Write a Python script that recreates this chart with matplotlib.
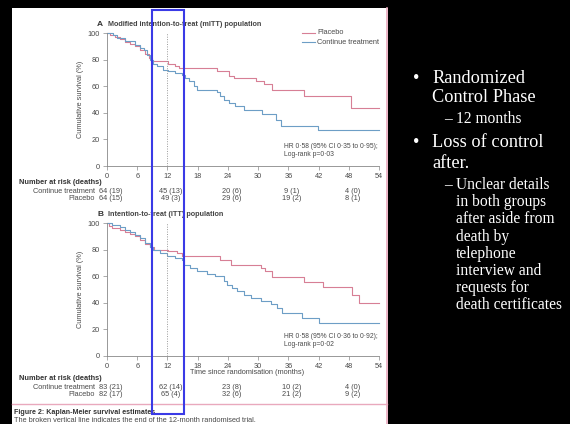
import matplotlib
matplotlib.use('Agg')
import matplotlib.pyplot as plt
from matplotlib.patches import Rectangle
from matplotlib.lines import Line2D
from matplotlib.transforms import blended_transform_factory

W, H = 570, 424
END = 54

# Panel A: modified intention-to-treat population
a_placebo_t = [0, 0.5, 1.5, 2.5, 3.5, 4.5, 5.5, 6.5, 7.5, 8.3, 9.0, 12.2, 13.5, 14.2,
               21.8, 24.2, 25.2, 29.5, 31.1, 32.8, 39.1, 48.4]
a_placebo_s = [100, 98.5, 97, 95.5, 93.5, 92, 90, 87.5, 84.5, 81, 78.7, 77, 75, 73.7,
               71.2, 67.4, 66.2, 63.7, 61.7, 57.4, 52.4, 43.6]
a_cont_t = [0, 1.2, 2.0, 3.5, 5.5, 6.5, 7.3, 8.0, 8.6, 9.2, 9.9, 11.2, 12.2, 13.5, 14.9,
            15.4, 16.2, 17.2, 17.9, 21.8, 22.5, 23.3, 24.2, 25.5, 27.2, 30.8, 33.5, 34.5, 41.8]
a_cont_s = [100, 98.7, 96.2, 94.2, 91.2, 89, 87.4, 83.7, 80, 77, 75, 72.4, 71.2, 69.9, 68.6,
            66, 63.7, 59.9, 57.4, 55.5, 53, 49.9, 47.4, 44.9, 42.3, 39.1, 34.8, 30.3, 26.8]

# Panel B: intention-to-treat population
b_placebo_t = [0, 0.3, 1.0, 2.5, 3.5, 4.5, 5.5, 6.5, 7.5, 8.6, 9.3, 12.2, 13.8, 14.9,
               22.5, 24.7, 30.5, 31.3, 32.8, 39.1, 42.8, 48.7, 50.1]
b_placebo_s = [100, 98, 96.5, 95, 93, 92, 90, 87.5, 84.5, 81.7, 80, 79, 77.4, 75,
               72.4, 68.6, 66.2, 63.7, 59.2, 55.6, 51.7, 46.1, 39.8]
b_cont_t = [0, 1.0, 2.5, 3.5, 4.5, 5.5, 6.5, 7.5, 8.6, 9.2, 10.6, 11.9, 13.5, 14.9, 15.2,
            16.5, 17.9, 19.9, 21.5, 23.2, 23.8, 24.8, 25.8, 27.2, 28.5, 30.5, 32.5, 33.8,
            34.8, 38.8, 42.1]
b_cont_s = [100, 98.5, 97, 95, 93, 91, 88.5, 85, 81.7, 80, 77.4, 75, 73.7, 72.4, 68.6,
            66.2, 63.7, 61.7, 59.9, 56.2, 53.6, 51.1, 48.6, 46.1, 43.6, 41.1, 39.1, 36.1,
            32.3, 28.6, 24.8]

risk_times = [0, 12, 24, 36, 48]
a_risk_cont = ['64 (19)', '45 (13)', '20 (6)', '9 (1)', '4 (0)']
a_risk_pl = ['64 (15)', '49 (3)', '29 (6)', '19 (2)', '8 (1)']
b_risk_cont = ['83 (21)', '62 (14)', '23 (8)', '10 (2)', '4 (0)']
b_risk_pl = ['82 (17)', '65 (4)', '32 (6)', '21 (2)', '9 (2)']

PINK = '#d77f95'
BLUE = '#6d9ec6'
TXT = '#4a4a4a'
FS = 5.3
plt.rcParams['font.family'] = ['Liberation Sans', 'DejaVu Sans']

fig = plt.figure(figsize=(W / 100, H / 100), dpi=100, facecolor='black')


def fy(py):
  return 1 - py / H


def ftext(px, py, s, **kw):
  kw.setdefault('fontsize', FS)
  kw.setdefault('color', TXT)
  kw.setdefault('va', 'center')
  fig.text(px / W, fy(py), s, **kw)


# white page of the journal figure
fig.add_artist(Rectangle((12 / W, 0), 376 / W, (H - 8) / H, transform=fig.transFigure,
                         fc='white', ec='none', zorder=-5))
fig.add_artist(Line2D([387 / W, 387 / W], [0, fy(8)], transform=fig.transFigure,
                      color='#e9a9bd', lw=1.2, zorder=-4))
fig.add_artist(Line2D([12 / W, 387 / W], [fy(404), fy(404)], transform=fig.transFigure,
                      color='#e9a9bd', lw=1.0, zorder=-4))


def draw_panel(top, letter, title, pl_t, pl_s, ct_t, ct_s, hr, risk_ct, risk_pl, legend, xlabel):
  ax = fig.add_axes([107 / W, fy(top + 133), 272 / W, 133 / H])
  ax.set_facecolor('none')
  ax.step(pl_t + [END], pl_s + [pl_s[-1]], where='post', color=PINK, lw=0.8, clip_on=False)
  ax.step(ct_t + [END], ct_s + [ct_s[-1]], where='post', color=BLUE, lw=0.8, clip_on=False)
  ax.axvline(12, color='#999999', lw=0.7, ls=(0, (1, 1.5)))
  ax.set_xlim(0, END)
  ax.set_ylim(0, 100)
  ax.set_xticks(range(0, 55, 6))
  ax.set_yticks(range(0, 101, 20))
  ax.tick_params(labelsize=FS, labelcolor=TXT, color='#888888', length=3, width=0.5, pad=2)
  for side in ['top', 'right']:
    ax.spines[side].set_visible(False)
  for side in ['left', 'bottom']:
    ax.spines[side].set_color('#888888')
    ax.spines[side].set_linewidth(0.6)

  ftext(97, top - 9, letter, fontsize=6, fontweight='bold', color='#333333')
  ftext(108, top - 9, title, fontsize=5.2, fontweight='bold', color='#444444')
  ftext(80, top + 66, 'Cumulative survival (%)', rotation=90, ha='center')
  ftext(284, top + 114, hr[0], fontsize=4.9)
  ftext(284, top + 122, hr[1], fontsize=4.9)
  if legend:
    for py, lab, c in [(top, 'Placebo', PINK), (top + 9, 'Continue treatment', BLUE)]:
      fig.add_artist(Line2D([302 / W, 315 / W], [fy(py), fy(py)], transform=fig.transFigure,
                            color=c, lw=0.8))
      ftext(317, py, lab)
  if xlabel:
    ftext(247, top + 150, 'Time since randomisation (months)', ha='center')

  rows = top + 150 if not xlabel else top + 156
  ftext(19, rows, 'Number at risk (deaths)', fontweight='bold', color='#333333')
  ftext(95, rows + 8.5, 'Continue treatment', ha='right')
  ftext(95, rows + 16, 'Placebo', ha='right')
  tr = blended_transform_factory(ax.transData, fig.transFigure)
  for t, c1, c2 in zip(risk_times, risk_ct, risk_pl):
    ax.text(t + 0.7, fy(rows + 8.5), c1, transform=tr, ha='center', va='center',
            fontsize=FS, color=TXT, clip_on=False)
    ax.text(t + 0.7, fy(rows + 16), c2, transform=tr, ha='center', va='center',
            fontsize=FS, color=TXT, clip_on=False)


draw_panel(33, 'A', 'Modified intention-to-treat (mITT) population',
           a_placebo_t, a_placebo_s, a_cont_t, a_cont_s,
           ['HR 0\u00b758 (95% CI 0\u00b735 to 0\u00b795);', 'Log-rank p=0\u00b703'],
           a_risk_cont, a_risk_pl, True, False)
draw_panel(223, 'B', 'Intention-to-treat (ITT) population',
           b_placebo_t, b_placebo_s, b_cont_t, b_cont_s,
           ['HR 0\u00b758 (95% CI 0\u00b736 to 0\u00b792);', 'Log-rank p=0\u00b702'],
           b_risk_cont, b_risk_pl, False, True)

ftext(14, 412, 'Figure 2: Kaplan-Meier survival estimates', fontsize=5.1, fontweight='bold',
      color='#333333')
ftext(14, 421, 'The broken vertical line indicates the end of the 12-month randomised trial.',
      fontsize=5.3)

# blue highlight box drawn over the figure
fig.add_artist(Rectangle((152 / W, fy(414)), 32 / W, 404 / H, transform=fig.transFigure,
                         fill=False, ec='#3a3ae6', lw=1.5, zorder=10))

# slide text on the right
SERIF = ['Liberation Serif', 'DejaVu Serif']
big = [(83.3, 'Randomized', True), (102.3, 'Control Phase', False),
       (147.3, 'Loss of control', True), (168.3, 'after.', False)]
for py, s, bullet in big:
  fig.text(432 / W, fy(py), s, fontsize=13.2, color='white', family=SERIF, va='baseline')
  if bullet:
    fig.text(413 / W, fy(py), '\u2022', fontsize=13.2, color='white', family=SERIF, va='baseline')

small = [(122.7, '12 months', True), (189.0, 'Unclear details', True),
         (206.2, 'in both groups', False), (223.4, 'after aside from', False),
         (240.6, 'death by', False), (257.8, 'telephone', False),
         (275.0, 'interview and', False), (292.2, 'requests for', False),
         (309.4, 'death certificates', False)]
for py, s, dash in small:
  fig.text(456 / W, fy(py), s, fontsize=11.2, color='white', family=SERIF, va='baseline')
  if dash:
    fig.text(444 / W, fy(py), '\u2013', fontsize=11.2, color='white', family=SERIF, va='baseline')

fig.savefig('out.png', dpi=100, facecolor='black')
